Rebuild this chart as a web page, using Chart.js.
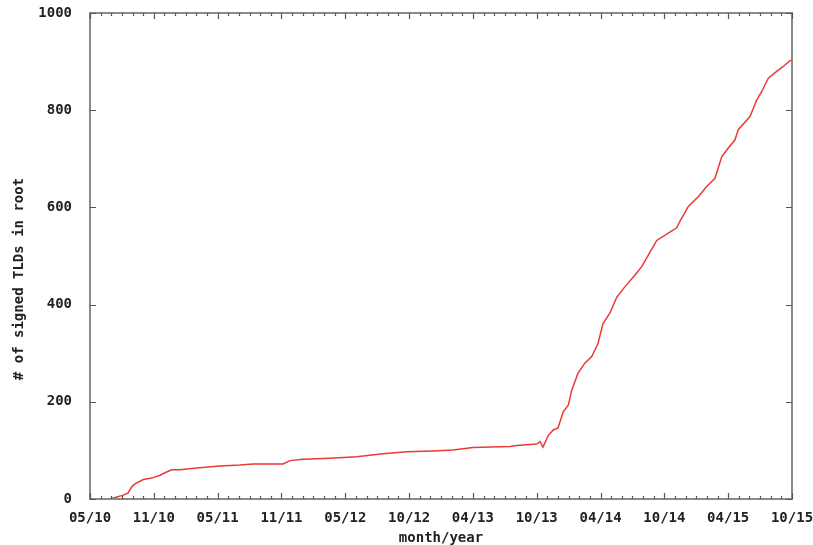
<!DOCTYPE html>
<html>
<head>
<meta charset="utf-8">
<script src="https://cdn.jsdelivr.net/npm/chart.js@4/dist/chart.umd.min.js"></script>
<style>
html,body{margin:0;padding:0;background:#fff;}
#wrap{width:813px;height:545px;}
</style>
</head>
<body>
<div id="wrap"><canvas id="c" width="813" height="545"></canvas></div>
<script>
// months elapsed since 05/10
const months = [1.81,2.35,3.13,3.57,3.92,4.23,5.01,5.80,6.58,7.15,7.68,8.46,10.03,12.22,14.10,15.33,18.15,18.80,20.03,22.57,25.07,27.55,29.78,32.25,34.13,36.01,39.49,40.12,42.00,42.31,42.59,43.09,43.56,44.00,44.19,44.50,44.97,45.29,45.88,46.54,47.17,47.76,48.23,48.89,49.52,50.30,51.24,51.87,52.65,53.28,54.22,55.16,55.47,56.25,57.19,57.98,58.76,59.39,59.86,60.64,60.95,62.05,62.68,63.15,63.77,64.56,65.18,65.81,66.0];
// number of signed TLDs in root
const signedTLDs = [0,3,8,12,25,31,40,43,49,55,60,60,64,68,70,72,72,79,82,84,87,93,97,99,101,106,108,110,113,118,107,131,142,146,159,180,193,224,259,280,293,320,361,383,415,437,461,478,508,532,545,558,572,602,622,643,660,704,718,739,760,787,821,838,866,880,890,902,903];
const xTickLabels = ["05/10","11/10","05/11","11/11","05/12","10/12","04/13","10/13","04/14","10/14","04/15","10/15"];
const yTickValues = [0,200,400,600,800,1000];
const xTitle = "month/year";
const yTitle = "# of signed TLDs in root";

const FONT = 'bold 14px "DejaVu Sans Mono", monospace';
const frameColor = '#8a8a8a';

const framePlugin = {
  id: 'frame',
  afterDraw(chart) {
    const ctx = chart.ctx, a = chart.chartArea;
    const xs = chart.scales.x, ys = chart.scales.y;
    ctx.save();
    ctx.strokeStyle = frameColor;
    ctx.lineWidth = 2;
    ctx.strokeRect(a.left, a.top, a.right - a.left, a.bottom - a.top);
    ctx.lineWidth = 1.2;
    ctx.strokeStyle = '#555';
    ctx.beginPath();
    for (let m = 0; m <= 66; m++) {
      const px = Math.round(xs.getPixelForValue(m)) + 0.5;
      const len = (m % 6 === 0) ? 6 : 3;
      ctx.moveTo(px, a.bottom); ctx.lineTo(px, a.bottom - len);
      ctx.moveTo(px, a.top); ctx.lineTo(px, a.top + len);
    }
    yTickValues.forEach(v => {
      const py = Math.round(ys.getPixelForValue(v)) + 0.5;
      ctx.moveTo(a.left, py); ctx.lineTo(a.left + 6, py);
      ctx.moveTo(a.right, py); ctx.lineTo(a.right - 6, py);
    });
    ctx.stroke();
    ctx.fillStyle = '#222';
    ctx.font = FONT;
    ctx.textAlign = 'center';
    ctx.textBaseline = 'middle';
    ctx.fillText(xTitle, (a.left + a.right) / 2, 538);
    ctx.translate(19, 279);
    ctx.rotate(-Math.PI / 2);
    ctx.fillText(yTitle, 0, 0);
    ctx.restore();
  }
};

new Chart(document.getElementById('c'), {
  type: 'line',
  data: {
    datasets: [{
      data: months.map((m, i) => ({x: m, y: signedTLDs[i]})),
      borderColor: '#ea3a36',
      borderWidth: 1.5,
      pointRadius: 0,
      tension: 0,
      fill: false
    }]
  },
  options: {
    responsive: false,
    animation: false,
    devicePixelRatio: 1,
    layout: {padding: {left: 0, right: 21, top: 13, bottom: 0}},
    plugins: {legend: {display: false}, tooltip: {enabled: false}},
    scales: {
      x: {
        type: 'linear', min: 0, max: 66,
        grid: {display: false},
        border: {display: false},
        ticks: {
          stepSize: 6, autoSkip: false, maxRotation: 0, padding: 3,
          color: '#222', font: {family: '"DejaVu Sans Mono", monospace', size: 14, weight: 'bold'},
          callback: v => xTickLabels[Math.round(v / 6)]
        },
        afterFit: s => { s.height = 46; s.paddingLeft = 0; s.paddingRight = 0; }
      },
      y: {
        min: 0, max: 1000,
        grid: {display: false},
        border: {display: false},
        ticks: {
          stepSize: 200, padding: 10,
          color: '#222', font: {family: '"DejaVu Sans Mono", monospace', size: 14, weight: 'bold'},
          callback: v => String(v)
        },
        afterFit: s => { s.width = 90; s.paddingTop = 0; s.paddingBottom = 0; }
      }
    }
  },
  plugins: [framePlugin]
});
</script>
</body>
</html>
